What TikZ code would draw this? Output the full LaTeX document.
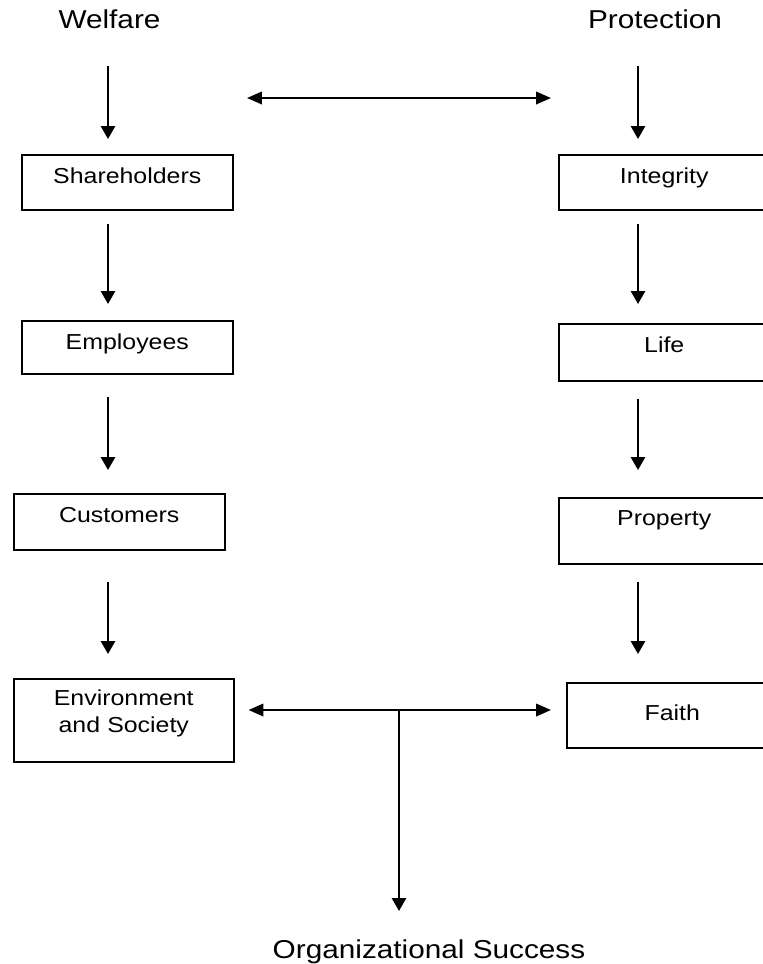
\documentclass[tikz,border=0pt]{standalone}
\usepackage{fontspec}
\setmainfont{Liberation Sans}[FakeStretch=1.15]
\usetikzlibrary{arrows.meta}
\usetikzlibrary{positioning}

\newlength\pxu
\setlength\pxu{0.25mm}

\tikzset{
    heading/.style={inner sep=0pt, anchor=base, font=\fontsize{18.4}{21}\selectfont},
    itembox/.style={draw, line width=1.1pt, inner sep=0pt, anchor=north west, text width=211\pxu, align=center, font=\fontsize{15.4}{19.2}\selectfont},
    varr/.style={-{Triangle[length=3.2mm, width=3.5mm]}, line width=1.5pt},
    harr/.style={{Triangle[length=3.7mm, width=3.1mm]}-{Triangle[length=3.7mm, width=3.1mm]}, line width=1.5pt},
}

\begin{document}
\begin{tikzpicture}[x=0.25mm, y=-0.25mm]
    \useasboundingbox (0, 0) rectangle (763, 964);

    \node[heading](welfare) at (109.5, 28){Welfare};
    \node[heading](protection) at (655, 28){Protection};

    % welfare column
    \node[itembox, text height=29\pxu, text depth=26\pxu](sh) at (21, 154){Shareholders};
    \node[itembox, text height=29\pxu, text depth=24\pxu](emp) at (21, 320){Employees};
    \node[itembox, text height=29\pxu, text depth=27\pxu](cus) at (13, 493){Customers};
    \node[itembox, text width=220\pxu, text height=27\pxu, text depth=56\pxu](env) at (13, 678){Environment\\and Society};

    % protection column
    \node[itembox, text height=29\pxu, text depth=26\pxu](integ) at (558, 154){Integrity};
    \node[itembox, text height=29\pxu, text depth=28\pxu](life) at (558, 323){Life};
    \node[itembox, text height=28\pxu, text depth=38\pxu](prop) at (558, 497){Property};
    \node[itembox, text height=38\pxu, text depth=27\pxu](faith) at (566, 682){Faith};

    \node[heading](success) at (429, 958){Organizational Success};

    \coordinate(lcol) at (108, 0);
    \coordinate(rcol) at (638, 0);
    \coordinate(topl) at (247, 98);
    \coordinate(topr) at (551, 98);
    \coordinate(junc) at (399, 710);

    \foreach \from/\to/\gs/\ge in {welfare/sh/37/15, sh/emp/13/16, emp/cus/22/23, cus/env/31/24}
        \draw[varr, shorten <=\gs*0.25mm, shorten >=\ge*0.25mm](\from.south -| lcol)--(\to.north -| lcol);
    \foreach \from/\to/\gs/\ge in {protection/integ/37/15, integ/life/13/19, life/prop/17/27, prop/faith/17/28}
        \draw[varr, shorten <=\gs*0.25mm, shorten >=\ge*0.25mm](\from.south -| rcol)--(\to.north -| rcol);

    \draw[harr](topl)--(topr);
    \draw[harr, shorten <=14*0.25mm, shorten >=15*0.25mm](env.east |- junc)--(faith.west |- junc);
    \draw[varr, shorten >=28*0.25mm](junc)--(junc |- success.north);

\end{tikzpicture}
\end{document}
